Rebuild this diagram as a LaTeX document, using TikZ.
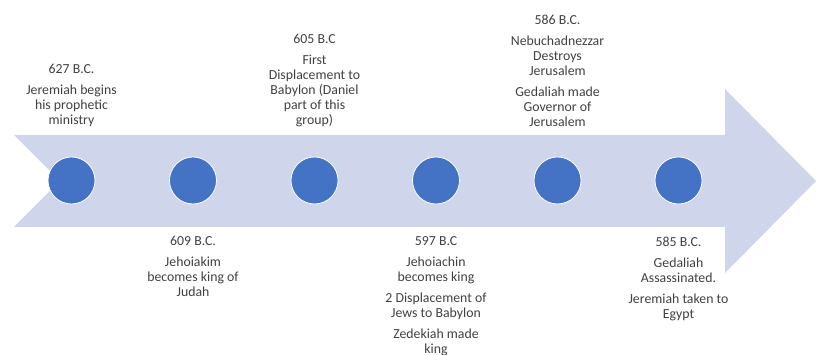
\documentclass[tikz,border=0pt]{standalone}
\usepackage{fontspec}
\setmainfont{Carlito}
\usetikzlibrary{positioning}
\definecolor{band}{HTML}{CFD5EA}
\definecolor{dotblue}{HTML}{4472C4}
\definecolor{ink}{HTML}{404040}
\tikzset{
   year/.style  = {circle, fill=dotblue, draw=white, line width=0.8pt, minimum size=47pt, inner sep=0pt},
   note/.style  = {align=center, text=ink, font=\fontsize{13.8}{15}\selectfont, inner sep=0pt},
}

\begin{document}
\begin{tikzpicture}[x=1pt,y=1pt]
   \useasboundingbox (0,0) rectangle (816,355);

   % the band
   \fill[band] (14,220) -- (725,220) -- (725,266) -- (816,174)
      -- (725,82) -- (725,128) -- (14,128) -- (60,174) -- cycle;

   \node[year] (y627) at (71.5,174.5)  {};
   \node[year] (y609) at (193,174.5)   {};
   \node[year] (y605) at (314.5,174.5) {};
   \node[year] (y597) at (436,174.5)   {};
   \node[year] (y586) at (557.5,174.5) {};
   \node[year] (y585) at (678.5,174.5) {};

   \node[note, above=30pt of y627] (t627) {627 B.C.\\[6pt]Jeremiah begins\\his prophetic\\ministry};
   \node[note, above=30pt of y605] (t605) {605 B.C\\[6pt]First\\Displacement to\\Babylon (Daniel\\part of this\\group)};
   \node[note, above=30pt of y586] (t586) {586 B.C.\\[6pt]Nebuchadnezzar\\Destroys\\Jerusalem\\[6pt]Gedaliah made\\Governor of\\Jerusalem};

   \node[note, below=32pt of y609] (t609) {609 B.C.\\[6pt]Jehoiakim\\becomes king of\\Judah};
   \node[note, below=32pt of y597] (t597) {597 B.C\\[6pt]Jehoiachin\\becomes king\\[6pt]2 Displacement of\\Jews to Babylon\\[6pt]Zedekiah made\\king};
   \node[note, below=32pt of y585] (t585) {585 B.C.\\[6pt]Gedaliah\\Assassinated.\\[6pt]Jeremiah taken to\\Egypt};
\end{tikzpicture}
\end{document}
